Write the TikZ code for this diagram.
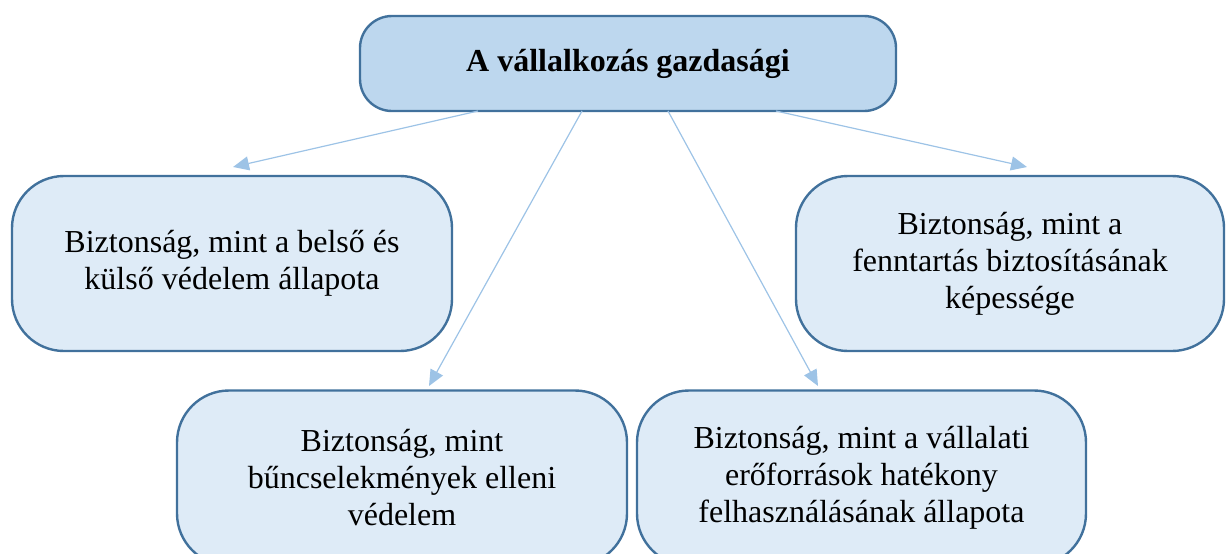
\documentclass[tikz,border=0pt]{standalone}
\usepackage{fontspec}
\setmainfont{Liberation Serif}
\usetikzlibrary{arrows.meta}
\definecolor{boxline}{HTML}{41719C}
\definecolor{topfill}{HTML}{BDD7EE}
\definecolor{subfill}{HTML}{DEEBF7}
\definecolor{arrowblue}{HTML}{9DC3E6}
\begin{document}
\begin{tikzpicture}[x=0.5pt, y=-0.5pt,
  topbox/.style={draw=boxline, line width=1.2pt, fill=topfill, rounded corners=16pt,
    minimum width=268pt, minimum height=47.5pt, align=center, inner sep=0pt, outer sep=0pt,
    font=\fontsize{16}{18.5}\selectfont\bfseries},
  subbox/.style={draw=boxline, line width=1.2pt, fill=subfill, rounded corners=26pt,
    minimum height=87.5pt, align=center, inner sep=0pt, outer sep=0pt,
    font=\fontsize{16}{18.5}\selectfont},
  link/.style={draw=arrowblue, line width=0.6pt, -{Triangle[length=8pt,width=7pt]}}]
\useasboundingbox (0,0) rectangle (1226,553);
\clip (0,0) rectangle (1226,553);
\node[topbox] (top) at (628,63.5){A vállalkozás gazdasági};
\node[subbox, minimum width=220pt] (left) at (232,263.5){Biztonság, mint a belső és\\külső védelem állapota};
\node[subbox, minimum width=214pt] (right) at (1010,263.5){Biztonság, mint a\\fenntartás biztosításának\\képessége};
\node[subbox, minimum width=225pt] (botleft) at (402,478){Biztonság, mint\\bűncselekmények elleni\\védelem};
\node[subbox, minimum width=224.5pt] (botright) at (861.5,478){Biztonság, mint a vállalati\\erőforrások hatékony\\felhasználásának állapota};
\coordinate (s1) at (478,111);
\coordinate (s2) at (582,111);
\coordinate (s3) at (668,111);
\coordinate (s4) at (776,111);
\coordinate (e1) at (233,167);
\coordinate (e2) at (429,386);
\coordinate (e3) at (818,386);
\coordinate (e4) at (1027,167);
\draw[link](s1) -- (e1);
\draw[link](s2) -- (e2);
\draw[link](s3) -- (e3);
\draw[link](s4) -- (e4);
\end{tikzpicture}
\end{document}
